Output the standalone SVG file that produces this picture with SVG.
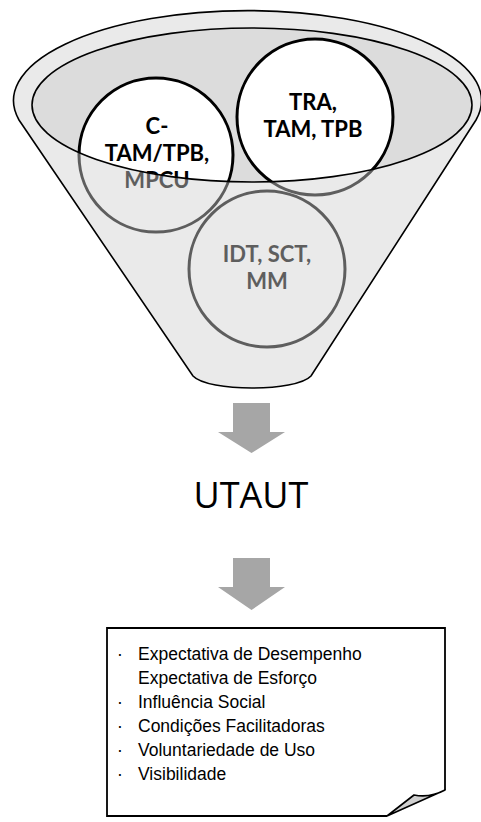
<svg xmlns="http://www.w3.org/2000/svg" width="481" height="822" viewBox="0 0 481 822">
<style>
.lbl{font-family:Lato,"Open Sans",sans-serif;font-weight:bold;font-size:22px;text-anchor:middle;fill:url(#ink)}
.circ{fill:url(#paper);stroke:url(#ink);stroke-width:3}
.arrow{fill:#a6a6a6}
.list{font-family:"Liberation Sans",Arial,sans-serif;font-size:17.5px;fill:#000}
</style>
<defs>
<pattern id="ink" patternUnits="userSpaceOnUse" x="0" y="0" width="481" height="822">
<rect x="0" y="0" width="481" height="822" fill="#5e5e5e"/>
<ellipse cx="252" cy="105" rx="220" ry="77" fill="#000"/>
</pattern>
<pattern id="paper" patternUnits="userSpaceOnUse" x="0" y="0" width="481" height="822">
<ellipse cx="252" cy="105" rx="220" ry="77" fill="#fff"/>
</pattern>
</defs>
<g id="funnel">
<path d="M 19 120 A 234 90 0 1 1 476 120 L 311 376 C 296 392 208 392 193 376 Z" fill="#eaeaea" stroke="#000" stroke-width="1.6"/>
<ellipse cx="252" cy="105" rx="220" ry="77" fill="#dcdcdc"/>
</g>
<g id="node-ctam">
<circle class="circ" cx="156" cy="155" r="77"/>
<text class="lbl" x="157" y="134">C-</text>
<text class="lbl" x="157" y="161">TAM/TPB,</text>
<text class="lbl" x="157" y="188">MPCU</text>
</g>
<g id="node-tra">
<circle class="circ" cx="315" cy="117" r="78"/>
<text class="lbl" x="313" y="110">TRA,</text>
<text class="lbl" x="313" y="137">TAM, TPB</text>
</g>
<g id="node-idt">
<circle class="circ" cx="267" cy="269" r="78"/>
<text class="lbl" x="267" y="262">IDT, SCT,</text>
<text class="lbl" x="267" y="289">MM</text>
</g>
<g id="funnel-rim">
<ellipse cx="252" cy="105" rx="220" ry="77" fill="none" stroke="#000" stroke-width="1.6"/>
</g>
<g id="connectors">
<polygon class="arrow" points="233,403 270,403 270,432 285,432 251.5,453 218,432 233,432"/>
<polygon class="arrow" points="233,558 270,558 270,587 285,587 251.5,610 218,587 233,587"/>
</g>
<g id="node-utaut">
<text x="251" y="508" font-family="'Open Sans','Noto Sans',sans-serif" font-size="36" text-anchor="middle" fill="#000">UTAUT</text>
</g>
<g id="node-list">
<path d="M 387 816 L 107 816 L 107 628 L 445 628 L 445 790" fill="#fff" stroke="#000" stroke-width="1.8"/>
<path d="M 445 790 C 434 796 424 797 414 795 L 387 816 Z" fill="#d0d0d0" stroke="#000" stroke-width="1.6" stroke-linejoin="round"/>
<g class="list">
<text x="117" y="660">·</text>
<text x="138" y="660">Expectativa de Desempenho</text>
<text x="138" y="684">Expectativa de Esforço</text>
<text x="117" y="708">·</text>
<text x="138" y="708">Influência Social</text>
<text x="117" y="732">·</text>
<text x="138" y="732">Condições Facilitadoras</text>
<text x="117" y="756">·</text>
<text x="138" y="756">Voluntariedade de Uso</text>
<text x="117" y="780">·</text>
<text x="138" y="780">Visibilidade</text>
</g>
</g>
</svg>
